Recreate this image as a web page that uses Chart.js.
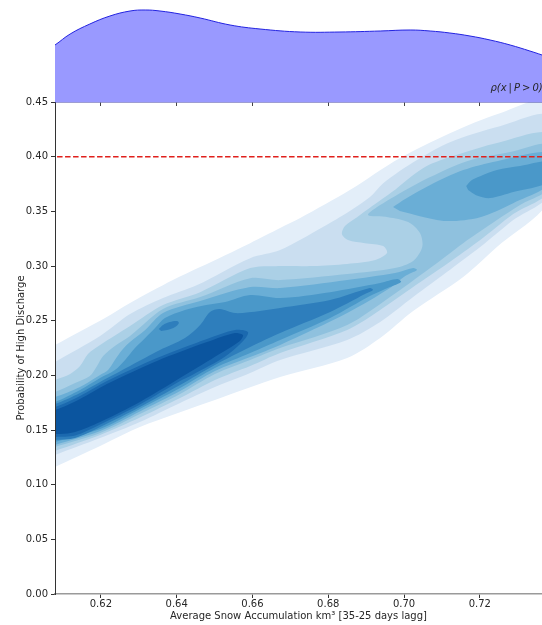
<!DOCTYPE html>
<html>
<head>
<meta charset="utf-8">
<script src="https://cdn.jsdelivr.net/npm/chart.js@4.4.0/dist/chart.umd.min.js"></script>
<style>
  html, body { margin: 0; padding: 0; background: #fff; }
  #wrap { position: relative; width: 542px; height: 625px; }
  #main { position: absolute; left: 0; top: 0; }
  #top  { position: absolute; left: 55px; top: 0; }
</style>
</head>
<body>
<div id="wrap">
  <canvas id="main" width="542" height="625"></canvas>
  <canvas id="top" width="487" height="106"></canvas>
</div>
<script>
/* Axes */
var xRange = [0.6079, 0.7364];
var xTicks = [0.62, 0.64, 0.66, 0.68, 0.70, 0.72];
var yTicks = [0.00, 0.05, 0.10, 0.15, 0.20, 0.25, 0.30, 0.35, 0.40, 0.45];
var threshold = 0.40;

/* Marginal density p(x | P > 0) */
var margX = [0.6053, 0.6079, 0.6119, 0.6171, 0.6224, 0.6277, 0.6317, 0.6356, 0.6409, 0.6462, 0.6541, 0.6620,
             0.6726, 0.6831, 0.6937, 0.7016, 0.7069, 0.7121, 0.7174, 0.7227, 0.7280, 0.7332, 0.7364, 0.7385];
var margY = [5.1, 5.7, 6.8, 7.8, 8.6, 9.1, 9.2, 9.1, 8.8, 8.4, 7.7, 7.3,
             7.0, 7.0, 7.1, 7.2, 7.1, 6.9, 6.6, 6.2, 5.7, 5.1, 4.7, 4.4];
var margMax = 10.2;
var margLabelAt = [0.7228, 1.1];

/* KDE contours, lightest to darkest, [x, y] */
var level1 = [[0.6053,0.2231],[0.6079,0.2277],[0.6211,0.2524],[0.6277,0.2661],[0.6390,0.2871],[0.6462,0.2990],[0.6594,0.3209],
  [0.6673,0.3347],[0.6726,0.3438],[0.6857,0.3694],[0.6989,0.3987],[0.7121,0.4215],[0.7253,0.4398],[0.7385,0.4508],
  [0.7385,0.3621],[0.7245,0.3173],[0.7156,0.2899],[0.7024,0.2588],[0.6937,0.2341],[0.6850,0.2158],[0.6673,0.1984],
  [0.6501,0.1774],[0.6303,0.1527],[0.6198,0.1353],[0.6079,0.1161],[0.6053,0.1116]];
var level2 = [[0.6053,0.2067],[0.6079,0.2121],[0.6198,0.2359],[0.6277,0.2560],[0.6364,0.2707],[0.6454,0.2826],[0.6594,0.3072],
  [0.6673,0.3146],[0.6786,0.3356],[0.6857,0.3502],[0.6910,0.3630],[0.6945,0.3758],[0.7034,0.3969],[0.7121,0.4133],
  [0.7253,0.4279],[0.7385,0.4371],
  [0.7385,0.3667],[0.7288,0.3420],[0.7201,0.3173],[0.7113,0.2944],[0.7024,0.2716],[0.6937,0.2487],[0.6850,0.2323],
  [0.6673,0.2140],[0.6594,0.2021],[0.6501,0.1893],[0.6409,0.1747],[0.6303,0.1573],[0.6198,0.1426],[0.6079,0.1271],[0.6053,0.1234]];
var level3 = [[0.6053,0.1911],[0.6079,0.1957],[0.6119,0.2012],[0.6145,0.2085],[0.6166,0.2195],[0.6198,0.2277],[0.6277,0.2451],
  [0.6364,0.2643],[0.6462,0.2761],[0.6594,0.2981],[0.6673,0.2999],[0.6760,0.2999],[0.6850,0.3018],[0.6924,0.3054],
  [0.6955,0.3118],[0.6945,0.3182],[0.6897,0.3209],[0.6852,0.3237],[0.6836,0.3292],[0.6844,0.3365],[0.6876,0.3447],
  [0.6916,0.3548],[0.6968,0.3676],[0.7050,0.3895],[0.7121,0.3996],[0.7253,0.4133],[0.7385,0.4206],
  [0.7385,0.3694],[0.7288,0.3475],[0.7201,0.3237],[0.7113,0.3018],[0.7024,0.2807],[0.6937,0.2597],[0.6850,0.2414],
  [0.6673,0.2204],[0.6594,0.2085],[0.6501,0.1957],[0.6409,0.1792],[0.6303,0.1614],[0.6198,0.1454],[0.6079,0.1308],[0.6053,0.1271]];
var level4 = [[0.6053,0.1829],[0.6079,0.1847],[0.6132,0.1929],[0.6171,0.1993],[0.6190,0.2085],[0.6206,0.2176],[0.6237,0.2268],
  [0.6277,0.2359],[0.6364,0.2606],[0.6462,0.2716],[0.6594,0.2889],[0.6673,0.2871],[0.6850,0.2926],[0.6976,0.2981],
  [0.7024,0.3045],[0.7048,0.3173],[0.7042,0.3301],[0.7011,0.3402],[0.6958,0.3447],[0.6905,0.3466],[0.6937,0.3557],
  [0.6976,0.3639],[0.7069,0.3813],[0.7166,0.3959],[0.7280,0.4042],[0.7385,0.4106],
  [0.7385,0.3722],[0.7306,0.3557],[0.7245,0.3420],[0.7156,0.3209],[0.7069,0.2981],[0.6963,0.2716],[0.6850,0.2460],
  [0.6673,0.2249],[0.6594,0.2140],[0.6501,0.2012],[0.6409,0.1829],[0.6303,0.1646],[0.6198,0.1472],[0.6079,0.1344],[0.6053,0.1308]];
var level5 = [[0.6053,0.1792],[0.6079,0.1801],[0.6145,0.1893],[0.6185,0.1975],[0.6198,0.2003],[0.6219,0.2048],[0.6237,0.2140],
  [0.6256,0.2231],[0.6277,0.2304],[0.6317,0.2414],[0.6364,0.2569],[0.6462,0.2679],[0.6594,0.2807],[0.6673,0.2798],
  [0.6850,0.2871],[0.6976,0.2935],[0.7024,0.2981],[0.7034,0.2963],
  [0.7003,0.2908],[0.6963,0.2798],[0.6850,0.2569],[0.6673,0.2277],[0.6594,0.2167],[0.6501,0.2039],[0.6409,0.1856],
  [0.6303,0.1669],[0.6198,0.1490],[0.6079,0.1362],[0.6053,0.1326]];
var level5b = [[0.6971,0.3539],[0.7003,0.3612],[0.7069,0.3740],[0.7156,0.3877],[0.7245,0.3959],[0.7385,0.4033],
  [0.7385,0.3758],[0.7288,0.3575],[0.7201,0.3447],[0.7113,0.3411],[0.7042,0.3456],[0.6989,0.3502]];
var level6 = [[0.6053,0.1747],[0.6079,0.1756],[0.6145,0.1865],[0.6198,0.1975],[0.6237,0.2048],[0.6264,0.2140],[0.6290,0.2249],
  [0.6317,0.2341],[0.6343,0.2432],[0.6369,0.2524],[0.6422,0.2597],[0.6462,0.2633],[0.6528,0.2670],[0.6594,0.2734],
  [0.6673,0.2707],[0.6805,0.2761],[0.6937,0.2844],[0.6982,0.2880],[0.6992,0.2853],
  [0.6950,0.2789],[0.6910,0.2725],[0.6805,0.2524],[0.6673,0.2323],[0.6594,0.2204],[0.6501,0.2067],[0.6409,0.1884],
  [0.6303,0.1692],[0.6198,0.1509],[0.6079,0.1390],[0.6053,0.1353]];
var level6b = [[0.7164,0.3731],[0.7179,0.3786],[0.7201,0.3822],[0.7245,0.3877],[0.7306,0.3914],[0.7385,0.3950],
  [0.7385,0.3776],[0.7288,0.3676],[0.7227,0.3621],[0.7190,0.3648],[0.7169,0.3694]];
var level7 = [[0.6053,0.1728],[0.6079,0.1737],[0.6145,0.1838],[0.6198,0.1939],[0.6277,0.2085],[0.6356,0.2231],[0.6422,0.2341],
  [0.6462,0.2460],[0.6488,0.2579],[0.6514,0.2606],[0.6554,0.2569],[0.6620,0.2588],[0.6673,0.2615],[0.6805,0.2688],
  [0.6910,0.2798],[0.6918,0.2780],
  [0.6897,0.2743],[0.6805,0.2579],[0.6673,0.2387],[0.6594,0.2259],[0.6501,0.2094],[0.6409,0.1911],[0.6303,0.1710],
  [0.6198,0.1527],[0.6132,0.1426],[0.6079,0.1408],[0.6053,0.1399]];
var level7b = [[0.6353,0.2423],[0.6364,0.2460],[0.6382,0.2487],[0.6401,0.2496],[0.6406,0.2478],[0.6396,0.2441],[0.6375,0.2414],[0.6359,0.2405]];
var level8 = [[0.6053,0.1710],[0.6079,0.1710],[0.6145,0.1811],[0.6216,0.1948],[0.6348,0.2158],[0.6480,0.2332],[0.6554,0.2414],
  [0.6588,0.2396],[0.6580,0.2332],[0.6530,0.2176],[0.6441,0.2003],[0.6409,0.1948],[0.6303,0.1733],[0.6198,0.1550],
  [0.6132,0.1449],[0.6079,0.1436],[0.6053,0.1431]];
var level9 = [[0.6053,0.1682],[0.6079,0.1682],[0.6145,0.1783],[0.6216,0.1920],[0.6348,0.2131],[0.6480,0.2304],[0.6554,0.2387],
  [0.6575,0.2368],[0.6567,0.2313],[0.6522,0.2213],[0.6435,0.2030],[0.6303,0.1756],[0.6198,0.1573],[0.6132,0.1481],
  [0.6092,0.1463],[0.6053,0.1472]];

var contours = [
  { pts: level1,  color: '#e3eef9' },
  { pts: level2,  color: '#cadef0' },
  { pts: level3,  color: '#abd0e6' },
  { pts: level4,  color: '#8fc1de' },
  { pts: level5,  color: '#6aaed6' },
  { pts: level5b, color: '#6aaed6' },
  { pts: level6,  color: '#4a98c9' },
  { pts: level6b, color: '#4a98c9' },
  { pts: level7,  color: '#2e7ebc' },
  { pts: level7b, color: '#2e7ebc' },
  { pts: level8,  color: '#1b69af' },
  { pts: level9,  color: '#0b559f' }
];

var FONT = 'DejaVu Sans';
var TXT = '#262626';

function toXY(p) { return { x: p[0], y: p[1] }; }
function fixedTicks(list) {
  return function (scale) { scale.ticks = list.map(function (v) { return { value: v }; }); };
}

/* Main panel */
var datasets = contours.map(function (c, i) {
  return {
    data: c.pts.map(toXY),
    fill: 'shape',
    backgroundColor: c.color,
    borderWidth: 0,
    pointRadius: 0,
    tension: 0.3,
    order: 100 - i
  };
});
datasets.push({
  data: [{ x: 0.60, y: threshold }, { x: 0.74, y: threshold }],
  fill: false,
  borderColor: '#e0201c',
  borderWidth: 1.5,
  borderDash: [5.5, 2.5],
  pointRadius: 0,
  order: 0
});

new Chart(document.getElementById('main'), {
  type: 'line',
  data: { datasets: datasets },
  options: {
    responsive: false,
    animation: false,
    layout: { padding: { top: 102, right: 0, left: 0, bottom: 0 } },
    elements: { line: { capBezierPoints: false } },
    plugins: { legend: { display: false }, tooltip: { enabled: false } },
    scales: {
      x: {
        type: 'linear', min: xRange[0], max: xRange[1],
        afterBuildTicks: fixedTicks(xTicks),
        afterFit: function (s) { s.height = 31; },
        ticks: { callback: function (v) { return v.toFixed(2); }, color: TXT, font: { family: FONT, size: 10 }, padding: 0, maxRotation: 0, autoSkip: false },
        grid: { drawOnChartArea: false, drawTicks: true, tickLength: 4, tickColor: '#333' },
        border: { color: '#9a9a9a', width: 1.5, z: 1 },
        title: { display: true, text: 'Average Snow Accumulation km³ [35-25 days lagg]', color: TXT, font: { family: FONT, size: 10 }, padding: { top: 0, bottom: 3 } }
      },
      y: {
        type: 'linear', min: 0, max: 0.45,
        afterBuildTicks: fixedTicks(yTicks),
        afterFit: function (s) { s.width = 55; },
        ticks: { callback: function (v) { return v.toFixed(2); }, color: TXT, font: { family: FONT, size: 10 }, padding: 3, autoSkip: false },
        grid: { drawOnChartArea: false, drawTicks: true, tickLength: 4, tickColor: '#333' },
        border: { color: '#333', width: 1, z: 1 },
        title: { display: true, text: 'Probability of High Discharge', color: TXT, font: { family: FONT, size: 10 }, padding: { top: 15, bottom: 0 } }
      }
    }
  }
});

/* Top panel: marginal density */
var rhoLabel = {
  id: 'rhoLabel',
  afterDraw: function (chart) {
    var ctx = chart.ctx;
    ctx.save();
    ctx.font = 'italic 10px "' + FONT + '"';
    ctx.fillStyle = TXT;
    ctx.fillText('ρ(x\u2009|\u2009P\u2009>\u20090)', chart.scales.x.getPixelForValue(margLabelAt[0]), chart.scales.y.getPixelForValue(margLabelAt[1]));
    ctx.restore();
  }
};

new Chart(document.getElementById('top'), {
  type: 'line',
  data: {
    datasets: [{
      data: margX.map(function (x, i) { return { x: x, y: margY[i] }; }),
      fill: 'origin',
      backgroundColor: '#9999ff',
      borderColor: '#2222e0',
      borderWidth: 1,
      pointRadius: 0,
      tension: 0.4
    }]
  },
  options: {
    responsive: false,
    animation: false,
    layout: { padding: 0 },
    plugins: { legend: { display: false }, tooltip: { enabled: false } },
    scales: {
      x: {
        type: 'linear', min: xRange[0], max: xRange[1],
        afterBuildTicks: fixedTicks(xTicks),
        afterFit: function (s) { s.height = 4; },
        ticks: { display: false },
        grid: { drawOnChartArea: false, drawTicks: true, tickLength: 4, tickColor: '#444' },
        border: { color: '#3c3ca6', width: 1.5 }
      },
      y: { display: false, min: 0, max: margMax }
    }
  },
  plugins: [rhoLabel]
});
</script>
</body>
</html>
